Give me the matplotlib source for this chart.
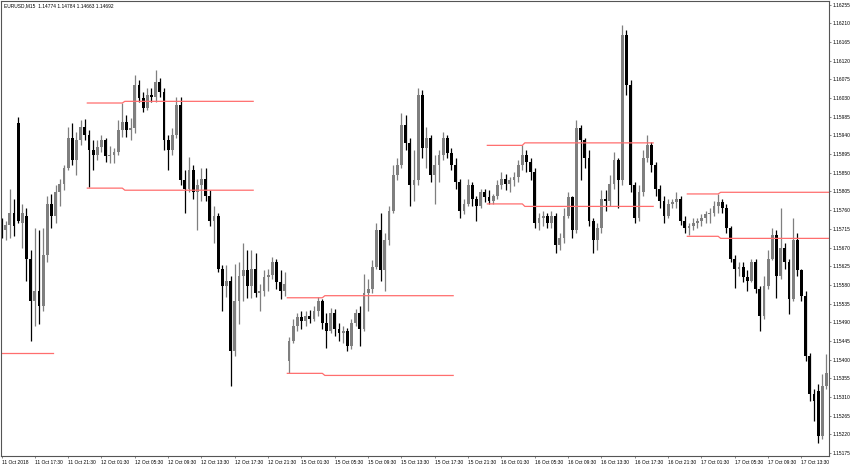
import numpy as np
import matplotlib
matplotlib.use("Agg")
import matplotlib.pyplot as plt

plt.rcParams['font.family'] = ['Liberation Sans', 'DejaVu Sans']

# EURUSD half-hour candles (11 Oct 13:30 -> 17 Oct 16:30)
opens = [
    1.15723, 1.15711, 1.15725, 1.15752, 1.15969, 1.15730, 1.15747, 1.15643, 1.15542, 1.15566,
    1.15530, 1.15651, 1.15776, 1.15745, 1.15803, 1.15822, 1.15861, 1.15933, 1.15880, 1.15928,
    1.15960, 1.15940, 1.15904, 1.15892, 1.15911, 1.15928, 1.15890, 1.15892, 1.15899, 1.15952,
    1.15972, 1.15952, 1.15957, 1.16061, 1.16030, 1.16005, 1.16037, 1.16032, 1.16068, 1.16044,
    1.15928, 1.15904, 1.15940, 1.16013, 1.15832, 1.15812, 1.15856, 1.15803, 1.15820, 1.15836,
    1.15795, 1.15735, 1.15747, 1.15619, 1.15578, 1.15590, 1.15421, 1.15542, 1.15602, 1.15615,
    1.15578, 1.15619, 1.15561, 1.15566, 1.15600, 1.15605, 1.15634, 1.15586, 1.15566, 1.15397,
    1.15446, 1.15482, 1.15503, 1.15494, 1.15506, 1.15499, 1.15518, 1.15542, 1.15489, 1.15470,
    1.15513, 1.15474, 1.15465, 1.15470, 1.15434, 1.15489, 1.15513, 1.15474, 1.15561, 1.15571,
    1.15624, 1.15711, 1.15615, 1.15687, 1.15759, 1.15844, 1.15868, 1.15964, 1.15921, 1.15820,
    1.15832, 1.16037, 1.15909, 1.15933, 1.15844, 1.15868, 1.15892, 1.15933, 1.15897, 1.15868,
    1.15827, 1.15759, 1.15776, 1.15820, 1.15788, 1.15771, 1.15803, 1.15791, 1.15783, 1.15793,
    1.15820, 1.15836, 1.15822, 1.15832, 1.15841, 1.15868, 1.15892, 1.15875, 1.15851, 1.15730,
    1.15740, 1.15747, 1.15730, 1.15747, 1.15675, 1.15692, 1.15747, 1.15791, 1.15711, 1.15957,
    1.15928, 1.15885, 1.15735, 1.15687, 1.15716, 1.15788, 1.15783, 1.15824, 1.15880, 1.15832,
    1.16182, 1.16061, 1.15820, 1.15740, 1.15803, 1.15885, 1.15916, 1.15868, 1.15812, 1.15783,
    1.15747, 1.15776, 1.15779, 1.15788, 1.15735, 1.15716, 1.15721, 1.15730, 1.15733, 1.15740,
    1.15750, 1.15754, 1.15771, 1.15779, 1.15764, 1.15716, 1.15643, 1.15619, 1.15624, 1.15600,
    1.15590, 1.15634, 1.15571, 1.15506, 1.15578, 1.15643, 1.15699, 1.15602, 1.15668, 1.15634,
    1.15547, 1.15687, 1.15615, 1.15554, 1.15409, 1.15318, 1.15325, 1.15216, 1.15337,
]
highs = [
    1.15742, 1.15735, 1.15812, 1.15788, 1.15984, 1.15776, 1.15764, 1.15663, 1.15718, 1.15711,
    1.15718, 1.15795, 1.15800, 1.15820, 1.15836, 1.15868, 1.15960, 1.15969, 1.15947, 1.15976,
    1.15979, 1.15952, 1.15928, 1.15928, 1.15940, 1.15933, 1.15914, 1.15909, 1.15976, 1.16018,
    1.15989, 1.15981, 1.16085, 1.16073, 1.16044, 1.16054, 1.16054, 1.16097, 1.16078, 1.16054,
    1.15940, 1.15957, 1.16032, 1.16032, 1.15856, 1.15887, 1.15868, 1.15836, 1.15861, 1.15861,
    1.15808, 1.15771, 1.15754, 1.15627, 1.15627, 1.15602, 1.15631, 1.15634, 1.15680, 1.15663,
    1.15663, 1.15658, 1.15583, 1.15615, 1.15619, 1.15646, 1.15643, 1.15615, 1.15610, 1.15455,
    1.15499, 1.15513, 1.15518, 1.15518, 1.15520, 1.15530, 1.15552, 1.15547, 1.15513, 1.15525,
    1.15523, 1.15489, 1.15482, 1.15477, 1.15499, 1.15523, 1.15530, 1.15607, 1.15595, 1.15639,
    1.15730, 1.15752, 1.15706, 1.15771, 1.15868, 1.15885, 1.15993, 1.15989, 1.15933, 1.15904,
    1.16054, 1.16049, 1.15960, 1.15940, 1.15892, 1.15904, 1.15947, 1.15940, 1.15909, 1.15885,
    1.15836, 1.15788, 1.15836, 1.15827, 1.15795, 1.15812, 1.15812, 1.15808, 1.15800, 1.15832,
    1.15851, 1.15846, 1.15841, 1.15851, 1.15880, 1.15916, 1.15904, 1.15885, 1.15861, 1.15754,
    1.15759, 1.15754, 1.15759, 1.15752, 1.15706, 1.15764, 1.15803, 1.15795, 1.15976, 1.15964,
    1.15933, 1.15904, 1.15740, 1.15730, 1.15808, 1.15808, 1.15844, 1.15899, 1.15885, 1.16206,
    1.16194, 1.16073, 1.15827, 1.15820, 1.15904, 1.15940, 1.15923, 1.15875, 1.15820, 1.15795,
    1.15788, 1.15788, 1.15803, 1.15793, 1.15747, 1.15730, 1.15740, 1.15740, 1.15750, 1.15759,
    1.15764, 1.15783, 1.15800, 1.15788, 1.15776, 1.15723, 1.15651, 1.15634, 1.15634, 1.15615,
    1.15643, 1.15643, 1.15578, 1.15602, 1.15663, 1.15716, 1.15711, 1.15766, 1.15682, 1.15643,
    1.15742, 1.15706, 1.15619, 1.15566, 1.15417, 1.15330, 1.15342, 1.15366, 1.15414,
]
lows = [
    1.15692, 1.15687, 1.15692, 1.15697, 1.15730, 1.15670, 1.15590, 1.15446, 1.15482, 1.15487,
    1.15518, 1.15634, 1.15718, 1.15730, 1.15771, 1.15808, 1.15856, 1.15868, 1.15844, 1.15916,
    1.15928, 1.15815, 1.15856, 1.15880, 1.15899, 1.15875, 1.15873, 1.15873, 1.15892, 1.15935,
    1.15935, 1.15928, 1.15945, 1.16020, 1.15996, 1.16001, 1.16020, 1.16020, 1.16032, 1.15904,
    1.15856, 1.15892, 1.15933, 1.15820, 1.15752, 1.15803, 1.15788, 1.15711, 1.15783, 1.15783,
    1.15723, 1.15680, 1.15610, 1.15518, 1.15552, 1.15337, 1.15409, 1.15487, 1.15542, 1.15549,
    1.15549, 1.15552, 1.15518, 1.15554, 1.15566, 1.15595, 1.15571, 1.15547, 1.15554, 1.15368,
    1.15441, 1.15470, 1.15474, 1.15482, 1.15489, 1.15494, 1.15506, 1.15474, 1.15429, 1.15465,
    1.15458, 1.15446, 1.15441, 1.15421, 1.15426, 1.15482, 1.15434, 1.15470, 1.15518, 1.15561,
    1.15619, 1.15590, 1.15566, 1.15675, 1.15754, 1.15832, 1.15861, 1.15904, 1.15771, 1.15783,
    1.15820, 1.15885, 1.15861, 1.15827, 1.15776, 1.15827, 1.15880, 1.15885, 1.15856, 1.15812,
    1.15742, 1.15750, 1.15771, 1.15771, 1.15735, 1.15766, 1.15779, 1.15776, 1.15774, 1.15788,
    1.15812, 1.15808, 1.15803, 1.15817, 1.15827, 1.15856, 1.15851, 1.15832, 1.15716, 1.15711,
    1.15723, 1.15716, 1.15716, 1.15656, 1.15663, 1.15682, 1.15740, 1.15694, 1.15706, 1.15832,
    1.15861, 1.15723, 1.15658, 1.15663, 1.15706, 1.15759, 1.15771, 1.15812, 1.15766, 1.15820,
    1.16037, 1.15803, 1.15730, 1.15735, 1.15795, 1.15875, 1.15851, 1.15795, 1.15764, 1.15728,
    1.15740, 1.15764, 1.15766, 1.15725, 1.15706, 1.15699, 1.15711, 1.15716, 1.15721, 1.15730,
    1.15730, 1.15747, 1.15754, 1.15752, 1.15706, 1.15634, 1.15573, 1.15602, 1.15586, 1.15566,
    1.15586, 1.15561, 1.15470, 1.15499, 1.15571, 1.15639, 1.15549, 1.15595, 1.15619, 1.15511,
    1.15542, 1.15602, 1.15542, 1.15397, 1.15301, 1.15253, 1.15200, 1.15209, 1.15330,
]
closes = [
    1.15711, 1.15725, 1.15752, 1.15721, 1.15735, 1.15754, 1.15643, 1.15542, 1.15566, 1.15530,
    1.15651, 1.15776, 1.15745, 1.15803, 1.15822, 1.15861, 1.15933, 1.15880, 1.15928, 1.15960,
    1.15940, 1.15904, 1.15892, 1.15911, 1.15928, 1.15890, 1.15892, 1.15899, 1.15952, 1.15972,
    1.15952, 1.15957, 1.16061, 1.16030, 1.16005, 1.16037, 1.16032, 1.16068, 1.16044, 1.15928,
    1.15904, 1.15940, 1.16013, 1.15832, 1.15812, 1.15856, 1.15803, 1.15820, 1.15836, 1.15795,
    1.15735, 1.15747, 1.15619, 1.15578, 1.15590, 1.15421, 1.15542, 1.15602, 1.15615, 1.15578,
    1.15619, 1.15561, 1.15566, 1.15600, 1.15605, 1.15634, 1.15586, 1.15566, 1.15581, 1.15446,
    1.15482, 1.15503, 1.15494, 1.15506, 1.15499, 1.15518, 1.15542, 1.15489, 1.15470, 1.15513,
    1.15474, 1.15465, 1.15470, 1.15434, 1.15489, 1.15513, 1.15474, 1.15561, 1.15571, 1.15624,
    1.15711, 1.15615, 1.15687, 1.15759, 1.15844, 1.15868, 1.15964, 1.15921, 1.15820, 1.15832,
    1.16037, 1.15909, 1.15933, 1.15844, 1.15868, 1.15892, 1.15933, 1.15897, 1.15868, 1.15827,
    1.15759, 1.15776, 1.15820, 1.15788, 1.15771, 1.15803, 1.15791, 1.15783, 1.15793, 1.15820,
    1.15836, 1.15822, 1.15832, 1.15841, 1.15868, 1.15892, 1.15875, 1.15851, 1.15730, 1.15740,
    1.15747, 1.15730, 1.15747, 1.15675, 1.15692, 1.15747, 1.15791, 1.15711, 1.15957, 1.15928,
    1.15885, 1.15735, 1.15687, 1.15716, 1.15788, 1.15783, 1.15824, 1.15880, 1.15832, 1.16182,
    1.16061, 1.15820, 1.15740, 1.15803, 1.15885, 1.15916, 1.15868, 1.15812, 1.15783, 1.15747,
    1.15776, 1.15779, 1.15788, 1.15735, 1.15716, 1.15721, 1.15730, 1.15733, 1.15740, 1.15750,
    1.15754, 1.15771, 1.15779, 1.15764, 1.15716, 1.15643, 1.15619, 1.15624, 1.15600, 1.15590,
    1.15634, 1.15571, 1.15506, 1.15578, 1.15643, 1.15699, 1.15602, 1.15668, 1.15634, 1.15547,
    1.15687, 1.15615, 1.15554, 1.15409, 1.15318, 1.15301, 1.15216, 1.15337, 1.15368,
]

# session range lines: bar where each starts, bar where the range is fixed, bar where it ends
lvl_start = [0, 21, 69, 117, 165]
lvl_step = [0, 29, 77, 125, 172]
lvl_end = [12, 60, 108, 156, 199]
hi_first = [None, 1.16018, 1.15549, 1.15916, 1.15799]
hi_final = [None, 1.16022, 1.15554, 1.15922, 1.15803]
lo_first = [1.15417, 1.15813, 1.15367, 1.15775, 1.15697]
lo_final = [1.15417, 1.15808, 1.15362, 1.15769, 1.15692]

time_labels = ["11 Oct 2018", "11 Oct 17:30", "11 Oct 21:30", "12 Oct 01:30", "12 Oct 05:30",
               "12 Oct 09:30", "12 Oct 13:30", "12 Oct 17:30", "12 Oct 21:30", "15 Oct 01:30",
               "15 Oct 05:30", "15 Oct 09:30", "15 Oct 13:30", "15 Oct 17:30", "15 Oct 21:30",
               "16 Oct 01:30", "16 Oct 05:30", "16 Oct 09:30", "16 Oct 13:30", "16 Oct 17:30",
               "16 Oct 21:30", "17 Oct 01:30", "17 Oct 05:30", "17 Oct 09:30", "17 Oct 13:30"]
price_labels = ["1.16255", "1.16210", "1.16165", "1.16120", "1.16075", "1.16030", "1.15985",
                "1.15940", "1.15895", "1.15850", "1.15805", "1.15760", "1.15715", "1.15670",
                "1.15625", "1.15580", "1.15535", "1.15490", "1.15445", "1.15400", "1.15355",
                "1.15310", "1.15265", "1.15220", "1.15175"]
title = "EURUSD,M15  1.14774 1.14784 1.14663 1.14692"

W, H = 852, 467
fig = plt.figure(figsize=(W / 100, H / 100), dpi=100)
ax = fig.add_axes([1 / W, (H - 455.7) / H, 828 / W, 454.4 / H])

o = np.array(opens)
h = np.array(highs)
l = np.array(lows)
c = np.array(closes)
x = np.arange(len(c))
up = c >= o
cols = np.where(up, '#7f7f7f', '#000000')

ax.vlines(x, l, h, colors=cols, lw=0.9)
body_lo = np.minimum(o, c)
body_h = np.maximum(np.abs(c - o), 0.000025)
ax.bar(x, body_h, bottom=body_lo, width=0.68, color=cols, linewidth=0)

red = '#ff6e6e'
for k in range(len(lvl_start)):
    s, st, e = lvl_start[k] - 0.4, lvl_step[k], lvl_end[k] + 0.4
    for a, b in ((hi_first[k], hi_final[k]), (lo_first[k], lo_final[k])):
        if a is None:
            continue
        if st > lvl_start[k]:
            ax.plot([s, st, st + 0.6, e], [a, a, b, b], color=red, lw=0.9)
        else:
            ax.plot([s, e], [b, b], color=red, lw=0.9)

ax.set_xlim(-0.12, 198.6)
ax.set_ylim(1.151687, 1.162629)

ax.set_xticks(np.arange(len(time_labels)) * 8)
ax.set_xticklabels(time_labels, ha='left', fontsize=3.5)
ax.set_yticks([float(p) for p in price_labels])
ax.set_yticklabels(price_labels, fontsize=3.5)
ax.yaxis.tick_right()
ax.tick_params(axis='both', direction='out', length=1.6, width=0.5, color='#555555', pad=1.2)
ax.tick_params(axis='x', pad=1.5)

for sp in ax.spines.values():
    sp.set_color('#555555')
    sp.set_linewidth(0.8)

ax.text(3 / 828, 1 - 4 / 454, title, transform=ax.transAxes, fontsize=3.5,
        ha='left', va='center', color='black')

fig.savefig("out.png", dpi=100)
